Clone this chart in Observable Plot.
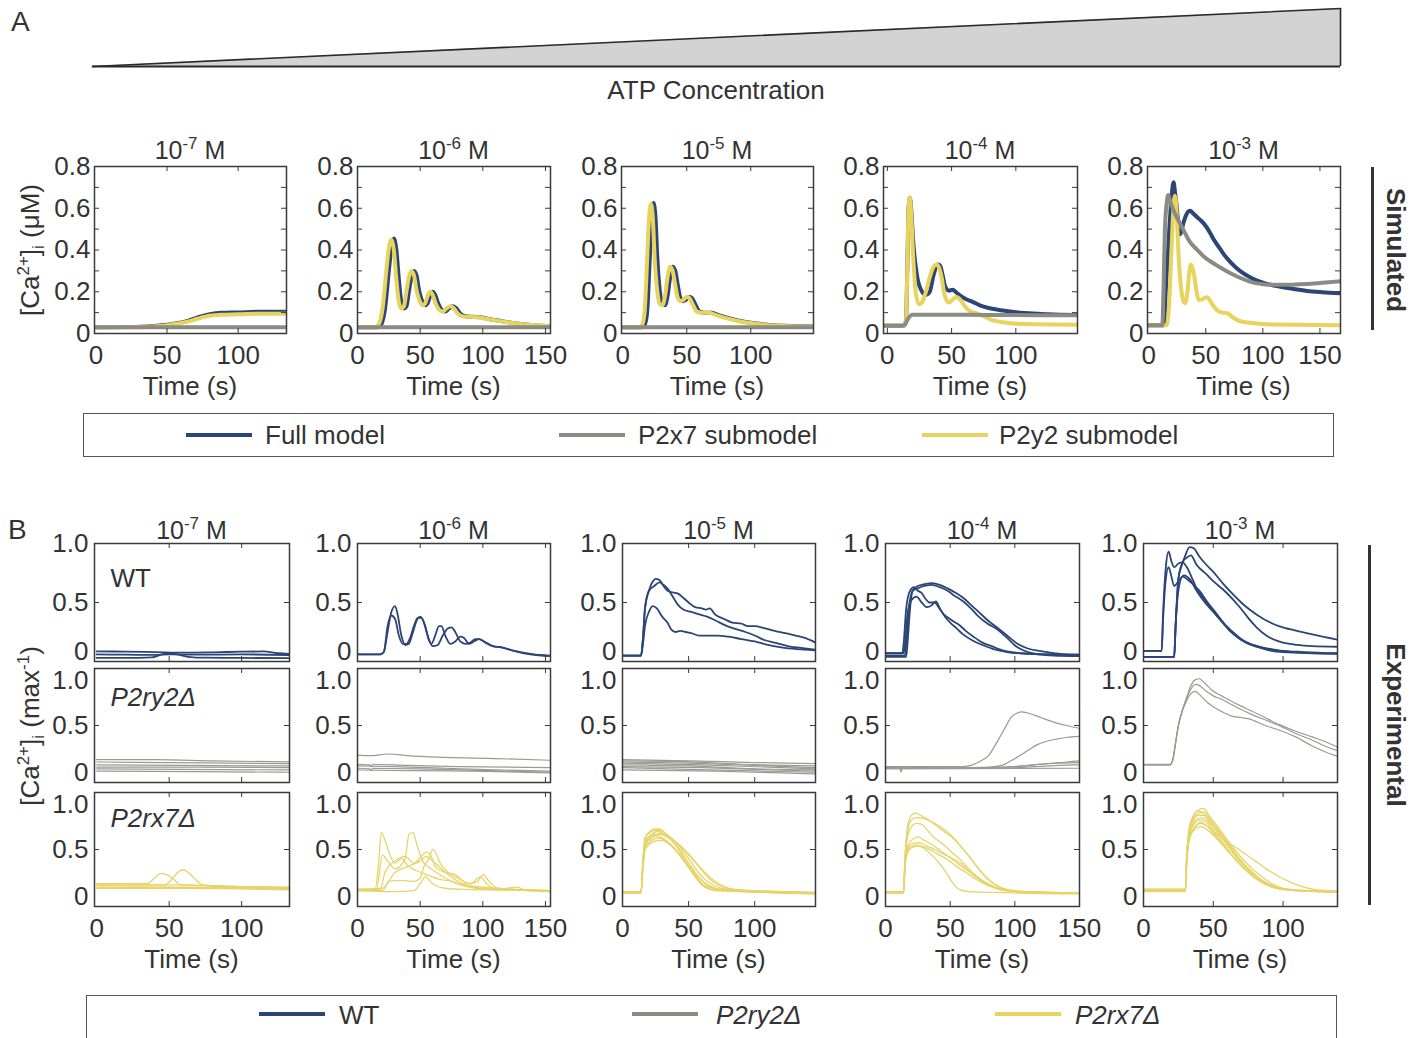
<!DOCTYPE html>
<html><head><meta charset="utf-8">
<script src="https://cdn.jsdelivr.net/npm/d3@7"></script>
<script src="https://cdn.jsdelivr.net/npm/@observablehq/plot@0.6"></script>
<style>
body{margin:0;background:#fff;overflow:hidden}
#root{position:relative;width:1425px;height:1038px;overflow:hidden;font-family:"Liberation Sans",Arial,sans-serif;color:#333}
.abs{position:absolute;white-space:nowrap;line-height:1}
.c{transform:translate(-50%,-50%)}
.su{font-size:17px;position:relative;top:-10px;vertical-align:baseline}
.sb{font-size:17px;position:relative;top:5px;vertical-align:baseline}
.leg{position:absolute;border:1.5px solid #555;box-sizing:border-box}
.sw{position:absolute;height:4px}
.lt{position:absolute;font-size:26px;transform:translateY(-50%);white-space:nowrap;line-height:1}
</style></head><body><div id="root"></div>
<script>
// ---------------- DATA ----------------
const concExp = ["-7","-6","-5","-4","-3"];
const atpRamp = [0, 1];
const simLegend = ["Full model","P2x7 submodel","P2y2 submodel"];
const expLegend = ["WT","P2ry2Δ","P2rx7Δ"];
const simYTicks = [0, 0.2, 0.4, 0.6, 0.8];
const simYMinor = [0.1, 0.2, 0.3, 0.4, 0.5, 0.6, 0.7];
const expYTicks = [0, 0.5, 1];
const simXTicks = [[0,50,100],[0,50,100,150],[0,50,100],[0,50,100],[0,50,100,150]];
const expXTicks = [[0,50,100],[0,50,100,150],[0,50,100],[0,50,100,150],[0,50,100]];
const simXDomains = [[-1,134],[0,154],[-1,149],[-3,148],[-1,168]];
const expXDomains = [[-1.5,133],[0,154],[0,146],[0,150],[0,139]];

// Simulated, 10^-7 M
const simFull7 = [[0,.03],[25,.031],[40,.036],[50,.042],[58,.05],[65,.062],[72,.078],[80,.092],[88,.099],[100,.101],[115,.104],[134,.104]];
const simP2y2_7 = [[0,.03],[25,.03],[40,.034],[50,.04],[58,.048],[65,.058],[72,.072],[80,.085],[88,.09],[100,.092],[115,.095],[134,.095]];
const simP2x7_7 = [[0,.03],[134,.03]];
// 10^-6 M
const simFull6 = [[0,.03],[16,.03],[19,.045],[22,.12],[25,.3],[27,.41],[29,.455],[31,.4],[33,.26],[35,.15],[37,.12],[39,.13],[41,.2],[43,.27],[45,.3],[47,.28],[49,.21],[52,.15],[54,.135],[56,.145],[58,.18],[60,.2],[62,.185],[64,.15],[67,.115],[70,.105],[73,.12],[76,.13],[79,.12],[82,.095],[86,.083],[92,.08],[98,.078],[106,.068],[116,.058],[130,.046],[154,.035]];
const simP2y2_6 = [[0,.03],[14,.03],[17,.045],[20,.12],[23,.3],[25,.41],[27,.45],[29,.4],[31,.26],[33,.15],[35,.12],[37,.13],[39,.2],[41,.27],[43,.3],[45,.28],[47,.21],[50,.15],[52,.135],[54,.145],[56,.18],[58,.2],[60,.185],[62,.15],[65,.115],[68,.105],[71,.12],[74,.13],[77,.12],[80,.095],[84,.082],[90,.08],[96,.078],[105,.068],[115,.058],[130,.045],[154,.035]];
const simP2x7_6 = [[0,.03],[154,.03]];
// 10^-5 M
const simFull5 = [[0,.03],[15,.03],[17,.04],[19,.1],[21,.35],[22.5,.55],[24,.625],[25.5,.56],[27,.36],[29,.2],[31,.14],[33,.135],[35,.18],[37,.27],[39,.32],[41,.3],[43,.23],[45,.17],[47,.155],[49,.16],[52,.175],[54,.17],[57,.135],[60,.105],[64,.1],[69,.1],[74,.09],[82,.075],[92,.06],[102,.05],[120,.038],[149,.033]];
const simP2y2_5 = [[0,.03],[13,.03],[15,.04],[17,.1],[19,.35],[20.5,.55],[22,.62],[23.5,.55],[25,.35],[27,.2],[29,.14],[31,.135],[33,.18],[35,.27],[37,.32],[39,.3],[41,.23],[43,.17],[45,.155],[47,.16],[50,.175],[52,.17],[55,.135],[58,.105],[62,.1],[67,.1],[72,.09],[80,.075],[90,.06],[100,.05],[118,.038],[149,.032]];
const simP2x7_5 = [[0,.03],[149,.03]];
// 10^-4 M
const simFull4 = [[-3,.037],[13,.037],[14.5,.06],[15.5,.3],[16.5,.6],[17.5,.65],[18.5,.6],[20,.45],[23,.28],[27,.2],[30,.185],[33,.2],[36,.28],[39,.33],[41,.325],[43,.28],[45,.225],[48,.205],[51,.21],[53,.2],[57,.18],[61,.165],[66,.153],[72,.135],[79,.122],[90,.11],[107,.098],[125,.092],[148,.088]];
const simP2y2_4 = [[-3,.037],[13,.037],[14.5,.06],[15.5,.3],[16.5,.6],[17.5,.65],[18.5,.58],[20,.38],[22,.2],[24.5,.14],[27,.15],[30,.2],[33,.27],[36,.32],[38.5,.33],[40.5,.31],[42.5,.26],[44,.2],[46,.16],[48,.148],[51,.165],[54,.175],[57,.16],[61,.125],[65,.105],[69,.098],[74,.085],[80,.068],[90,.054],[107,.045],[148,.042]];
const simP2x7_4 = [[-3,.037],[12,.037],[14,.045],[16,.07],[18,.085],[20,.09],[40,.09],[80,.089],[148,.087]];
// 10^-3 M
const simFull3 = [[-1,.04],[13.5,.04],[15,.2],[18,.49],[20,.65],[21.8,.725],[23,.68],[24.7,.6],[26,.52],[27.6,.475],[29,.5],[31,.54],[33.5,.575],[36.3,.588],[39,.575],[42.7,.556],[46,.54],[50,.515],[54,.48],[57,.45],[62,.41],[66,.378],[72,.34],[80.5,.298],[88,.272],[95,.253],[102,.24],[109.6,.23],[125,.215],[138.7,.204],[152,.198],[168,.193]];
const simP2y2_3 = [[-1,.04],[16,.04],[18,.15],[20,.4],[21.5,.58],[23,.66],[24.5,.58],[25.9,.41],[27.3,.28],[28.8,.2],[30.5,.155],[32,.145],[34,.2],[35.5,.29],[37,.33],[38.5,.31],[39.8,.28],[42,.2],[44,.16],[47,.163],[49.5,.172],[51.5,.174],[54,.155],[57,.129],[61.6,.105],[65,.1],[68.9,.097],[73,.08],[77.6,.064],[85,.054],[95,.048],[110,.043],[168,.04]];
const simP2x7_3 = [[-1,.04],[12,.04],[13,.2],[14.2,.49],[15.7,.62],[17.2,.663],[19,.63],[21,.6],[25.3,.55],[31,.49],[36,.44],[42.7,.4],[48,.37],[54,.346],[60,.325],[66,.306],[73,.285],[80.5,.266],[88,.25],[95,.24],[102,.235],[109.6,.233],[125,.234],[138.7,.237],[152,.243],[168,.25]];

// Experimental, WT (row 1)
const expWT7 = [
 [[0,.085],[20,.084],[40,.08],[60,.075],[80,.078],[100,.083],[115,.085],[125,.07],[133,.065]],
 [[0,.06],[20,.058],[40,.056],[50,.06],[70,.058],[100,.06],[133,.055]],
 [[0,.03],[20,.03],[38,.035],[45,.06],[50,.068],[56,.06],[63,.04],[75,.032],[100,.03],[133,.028]]
];
const expWT6 = [
 [[0,.06],[18,.06],[21,.08],[24,.25],[27,.42],[30,.47],[32,.4],[35,.22],[38,.14],[41,.15],[44,.24],[47,.34],[50,.38],[53,.33],[56,.22],[60,.13],[64,.14],[68,.22],[72,.28],[75,.29],[78,.25],[82,.17],[86,.15],[90,.16],[94,.19],[97,.19],[102,.16],[108,.13],[115,.12],[125,.09],[138,.06],[154,.045]],
 [[0,.06],[18,.06],[21,.08],[24,.3],[27,.39],[30,.36],[33,.22],[36,.15],[39,.15],[42,.2],[45,.3],[48,.37],[51,.37],[54,.3],[57,.18],[59,.15],[62,.22],[65,.3],[67,.3],[70,.22],[74,.15],[78,.17],[82,.21],[85,.2],[89,.15],[93,.17],[97,.19],[101,.17],[108,.13],[115,.12],[125,.09],[138,.065],[154,.05]]
];
const expWT5 = [
 [[0,.05],[14,.05],[15.5,.2],[17,.45],[20,.6],[23,.68],[25,.7],[28,.69],[31,.64],[34,.6],[38,.585],[42,.575],[46,.54],[50,.5],[55,.46],[60,.45],[63,.44],[66,.45],[70,.4],[77,.36],[83,.33],[90,.32],[95,.3],[100,.3],[108,.28],[115,.26],[123,.24],[131,.22],[138,.2],[146,.16]],
 [[0,.05],[14,.05],[15.5,.2],[17,.45],[20,.6],[24,.64],[28,.67],[31,.65],[34,.62],[38,.55],[42,.48],[46,.44],[52,.42],[58,.4],[64,.38],[70,.35],[77,.31],[84,.28],[93,.25],[100,.22],[108,.18],[115,.16],[125,.13],[135,.115],[146,.1]],
 [[0,.05],[14,.05],[15.5,.15],[17,.3],[20,.42],[23,.47],[26,.45],[30,.38],[34,.33],[37,.27],[40,.25],[44,.26],[48,.25],[52,.24],[58,.22],[65,.22],[72,.22],[80,.21],[90,.19],[100,.17],[110,.14],[120,.12],[132,.105],[146,.095]]
];
const expWT4 = [
 [[0,.07],[13,.07],[14,.15],[16,.45],[19,.6],[22,.63],[25,.6],[28,.58],[31,.53],[34,.5],[37,.5],[39,.51],[42,.45],[46,.38],[50,.33],[55,.28],[60,.23],[67,.18],[75,.14],[85,.1],[95,.078],[110,.065],[130,.06],[150,.06]],
 [[0,.07],[14,.07],[15,.15],[17,.4],[20,.52],[24,.55],[28,.5],[32,.46],[36,.48],[38,.5],[41,.46],[45,.4],[50,.36],[54,.33],[57,.31],[62,.26],[68,.21],[75,.16],[82,.13],[92,.09],[105,.07],[125,.06],[150,.055]],
 [[0,.05],[15,.05],[16,.15],[18,.45],[21,.6],[25,.64],[30,.655],[36,.665],[42,.65],[48,.62],[53,.59],[60,.54],[66,.48],[72,.42],[79,.35],[86,.29],[94,.22],[102,.15],[110,.11],[119,.09],[130,.07],[150,.05]],
 [[0,.04],[16,.04],[17,.15],[19,.45],[21,.6],[25,.62],[30,.64],[36,.65],[42,.63],[48,.6],[53,.56],[60,.51],[66,.45],[72,.38],[79,.32],[86,.275],[94,.2],[102,.12],[110,.08],[119,.06],[130,.05],[150,.045]]
];
const expWT3 = [
 [[0,.09],[13,.09],[14,.4],[16,.8],[18,.93],[20,.85],[22,.8],[25,.83],[28,.84],[31,.8],[35,.7],[38,.62],[44,.52],[50,.43],[56,.34],[62,.26],[68,.2],[74,.16],[85,.12],[97,.095],[115,.08],[139,.07]],
 [[0,.09],[13,.09],[14,.35],[16,.7],[18,.8],[20,.72],[22,.64],[25,.68],[29,.73],[33,.7],[38,.6],[44,.5],[50,.42],[56,.34],[62,.26],[68,.2],[74,.155],[85,.115],[97,.09],[115,.075],[139,.068]],
 [[0,.04],[22,.04],[23,.3],[25,.7],[27,.8],[30,.9],[33,.97],[36,.96],[40,.89],[45,.82],[50,.76],[57,.66],[64,.57],[70,.5],[76,.44],[86,.36],[97,.3],[110,.26],[121,.23],[139,.185]],
 [[0,.04],[22,.04],[23,.3],[25,.7],[28,.84],[31,.88],[34,.9],[38,.82],[45,.74],[51,.67],[57,.61],[63,.54],[69,.46],[75,.37],[81,.29],[88,.22],[97,.17],[110,.14],[121,.13],[139,.125]],
 [[0,.04],[22,.04],[23,.3],[25,.6],[28,.72],[31,.7],[35,.66],[40,.6],[46,.5],[52,.41],[58,.32],[64,.25],[70,.19],[78,.14],[88,.1],[100,.08],[139,.065]]
];
// Experimental, P2ry2Δ (row 2)
const expRy7 = [
 [[0,.2],[40,.2],[80,.19],[133,.18]],
 [[0,.18],[50,.175],[133,.165]],
 [[0,.155],[60,.15],[133,.145]],
 [[0,.135],[70,.135],[133,.13]],
 [[0,.12],[60,.115],[133,.11]],
 [[0,.1],[70,.095],[133,.09]]
];
const expRy6 = [
 [[0,.24],[10,.235],[25,.25],[40,.235],[70,.22],[110,.21],[154,.195]],
 [[0,.16],[10,.155],[11,.14],[12,.16],[40,.15],[80,.14],[154,.13]],
 [[0,.145],[30,.14],[70,.125],[110,.11],[154,.1]],
 [[0,.125],[10,.12],[11,.105],[12,.125],[50,.12],[100,.105],[154,.09]],
 [[0,.11],[40,.105],[90,.1],[154,.085]]
];
const expRy5 = [
 [[0,.2],[50,.19],[100,.175],[146,.165]],
 [[0,.19],[40,.185],[90,.16],[146,.145]],
 [[0,.18],[50,.17],[100,.15],[146,.13]],
 [[0,.17],[60,.155],[146,.12]],
 [[0,.155],[50,.145],[100,.12],[146,.11]],
 [[0,.14],[60,.13],[146,.1]],
 [[0,.13],[50,.115],[146,.09]],
 [[0,.11],[70,.1],[146,.075]]
];
const expRy4 = [
 [[0,.14],[40,.14],[60,.14],[66,.15],[72,.18],[80,.24],[86,.35],[92,.47],[97,.57],[102,.61],[105,.62],[110,.61],[120,.57],[130,.53],[140,.5],[150,.475]],
 [[0,.13],[60,.13],[80,.135],[90,.15],[97,.19],[103,.23],[110,.28],[117,.33],[124,.36],[132,.38],[140,.395],[150,.405]],
 [[0,.13],[11,.13],[12,.09],[13,.13],[80,.13],[100,.14],[120,.16],[140,.18],[150,.19]],
 [[0,.135],[80,.13],[105,.145],[125,.165],[150,.175]],
 [[0,.125],[90,.125],[115,.14],[135,.15],[150,.155]],
 [[0,.12],[150,.125]]
];
const expRy3 = [
 [[0,.155],[19,.155],[21,.2],[23,.35],[25,.5],[28,.64],[31,.75],[34,.85],[37,.9],[40,.91],[44,.87],[50,.8],[56,.76],[62,.72],[70,.67],[77,.63],[87,.57],[97,.51],[109,.45],[121,.4],[130,.36],[139,.31]],
 [[0,.16],[19,.16],[21,.2],[23,.35],[25,.5],[28,.64],[31,.74],[34,.82],[37,.86],[40,.85],[45,.8],[50,.76],[56,.73],[62,.69],[70,.64],[77,.6],[87,.55],[97,.5],[109,.43],[121,.37],[130,.32],[139,.28]],
 [[0,.155],[19,.155],[21,.2],[23,.35],[25,.5],[28,.63],[31,.72],[34,.78],[37,.8],[41,.76],[46,.7],[52,.65],[58,.61],[64,.58],[70,.57],[75,.56],[87,.5],[97,.46],[109,.4],[121,.32],[130,.27],[139,.23]]
];
// Experimental, P2rx7Δ (row 3)
const expRx7 = [
 [[0,.2],[35,.2],[40,.25],[44,.29],[48,.28],[53,.24],[58,.19],[80,.18],[133,.17]],
 [[0,.19],[47,.19],[52,.24],[57,.31],[60,.32],[64,.29],[68,.24],[73,.19],[90,.17],[133,.16]],
 [[0,.185],[40,.19],[60,.19],[100,.175],[133,.165]],
 [[0,.17],[50,.17],[90,.165],[133,.155]],
 [[0,.16],[60,.16],[110,.155],[111,.175],[112,.155],[133,.15]],
 [[0,.165],[30,.17],[70,.165],[133,.145]]
];
const expRx6 = [
 [[0,.15],[14,.15],[17,.4],[19,.65],[22,.58],[26,.45],[30,.38],[35,.42],[40,.36],[46,.32],[55,.28],[65,.24],[75,.22],[85,.18],[100,.16],[154,.14]],
 [[0,.15],[15,.15],[20,.45],[24,.4],[30,.33],[38,.42],[41,.63],[44,.65],[48,.52],[52,.4],[56,.35],[60,.32],[70,.25],[80,.2],[100,.17],[154,.14]],
 [[0,.14],[18,.15],[22,.3],[30,.4],[38,.44],[45,.38],[50,.43],[55,.48],[58,.46],[62,.35],[70,.3],[78,.28],[88,.2],[96,.22],[100,.28],[105,.22],[112,.16],[154,.13]],
 [[0,.14],[20,.14],[25,.22],[35,.23],[45,.22],[50,.25],[53,.35],[57,.42],[60,.5],[62,.48],[66,.38],[72,.3],[80,.25],[90,.2],[98,.26],[103,.2],[112,.15],[128,.17],[132,.15],[154,.13]],
 [[0,.14],[30,.13],[45,.14],[50,.2],[54,.26],[60,.2],[70,.16],[85,.15],[154,.14]],
 [[0,.15],[20,.16],[30,.3],[40,.35],[50,.4],[55,.44],[60,.4],[70,.3],[80,.22],[95,.16],[154,.135]]
];
const expRx5 = [
 [[0,.13],[14,.13],[15.5,.4],[17,.6],[20,.65],[24,.68],[28,.68],[32,.65],[36,.6],[40,.54],[45,.45],[50,.35],[55,.26],[60,.2],[68,.16],[80,.145],[100,.135],[146,.12]],
 [[0,.12],[14,.12],[15.5,.4],[17,.6],[20,.64],[25,.67],[30,.66],[35,.62],[40,.57],[45,.5],[50,.42],[56,.32],[62,.24],[70,.18],[80,.15],[100,.14],[146,.125]],
 [[0,.125],[14,.125],[15.5,.4],[17,.58],[21,.62],[26,.66],[31,.64],[36,.6],[42,.55],[48,.48],[54,.4],[60,.32],[66,.24],[74,.18],[85,.15],[146,.12]],
 [[0,.12],[14,.12],[15.5,.38],[17,.55],[22,.6],[27,.63],[32,.62],[38,.58],[44,.53],[50,.46],[56,.38],[63,.29],[70,.22],[78,.17],[90,.14],[146,.11]],
 [[0,.13],[14,.13],[15.5,.35],[17,.52],[22,.58],[27,.6],[32,.58],[38,.52],[44,.44],[50,.34],[55,.26],[60,.19],[66,.15],[80,.14],[146,.115]],
 [[0,.12],[14,.12],[15.5,.35],[17,.5],[22,.56],[28,.58],[34,.56],[40,.5],[46,.42],[52,.33],[58,.25],[64,.19],[72,.15],[90,.135],[146,.11]],
 [[0,.125],[14,.125],[15.5,.35],[18,.55],[23,.62],[28,.61],[34,.57],[40,.5],[46,.41],[52,.32],[58,.23],[63,.17],[70,.14],[146,.115]],
 [[0,.12],[14,.12],[15.5,.38],[18,.58],[23,.63],[29,.64],[35,.6],[42,.52],[49,.4],[55,.3],[61,.22],[68,.17],[78,.14],[146,.12]]
];
const expRx4 = [
 [[0,.13],[14,.13],[15,.4],[17,.7],[20,.8],[23,.82],[27,.8],[32,.77],[38,.72],[45,.66],[52,.6],[58,.53],[66,.42],[74,.3],[80,.23],[88,.17],[96,.14],[110,.125],[150,.12]],
 [[0,.12],[14,.12],[15,.4],[17,.65],[20,.76],[24,.78],[30,.77],[38,.73],[45,.68],[52,.61],[58,.53],[64,.45],[70,.36],[76,.28],[84,.2],[94,.15],[110,.13],[150,.12]],
 [[0,.13],[14,.13],[15,.4],[17,.6],[20,.7],[24,.73],[28,.72],[33,.66],[38,.6],[44,.55],[50,.49],[56,.43],[62,.36],[68,.29],[76,.22],[85,.17],[100,.135],[150,.12]],
 [[0,.12],[14,.12],[15,.35],[17,.52],[20,.58],[25,.61],[30,.58],[35,.55],[40,.51],[46,.46],[52,.41],[58,.36],[64,.31],[70,.26],[78,.2],[88,.15],[100,.13],[150,.115]],
 [[0,.125],[14,.125],[15,.35],[17,.48],[20,.52],[25,.54],[30,.52],[36,.49],[42,.45],[48,.41],[55,.35],[62,.3],[70,.24],[78,.19],[88,.15],[105,.13],[150,.115]],
 [[0,.12],[14,.12],[15,.35],[17,.47],[21,.52],[26,.53],[31,.5],[36,.45],[40,.4],[45,.33],[49,.26],[53,.19],[57,.15],[65,.13],[150,.11]],
 [[0,.13],[14,.13],[15,.35],[17,.5],[21,.55],[26,.56],[32,.53],[38,.5],[45,.46],[52,.42],[58,.38],[64,.32],[70,.26],[78,.2],[90,.15],[105,.13],[150,.12]]
];
const expRx3 = [
 [[0,.15],[30,.15],[31,.45],[33,.7],[36,.8],[40,.85],[43,.86],[47,.8],[52,.72],[58,.62],[64,.52],[70,.43],[77,.34],[84,.27],[92,.2],[100,.16],[112,.14],[139,.13]],
 [[0,.14],[30,.14],[31,.45],[33,.68],[36,.78],[40,.82],[43,.83],[48,.76],[54,.66],[60,.56],[66,.46],[72,.37],[79,.29],[86,.22],[95,.17],[108,.14],[139,.13]],
 [[0,.15],[30,.15],[31,.45],[33,.66],[36,.76],[39,.8],[43,.8],[48,.74],[54,.64],[60,.54],[66,.44],[72,.36],[79,.28],[87,.21],[96,.17],[110,.14],[139,.135]],
 [[0,.14],[30,.14],[31,.42],[33,.62],[36,.72],[40,.76],[44,.75],[50,.66],[56,.57],[62,.47],[68,.38],[75,.3],[82,.23],[90,.18],[100,.15],[139,.13]],
 [[0,.13],[30,.13],[31,.4],[33,.6],[37,.7],[41,.73],[45,.71],[51,.63],[57,.54],[63,.45],[69,.37],[76,.29],[84,.22],[93,.17],[105,.145],[139,.13]],
 [[0,.14],[30,.14],[31,.4],[33,.6],[37,.68],[41,.7],[46,.67],[52,.6],[58,.52],[64,.44],[70,.36],[77,.28],[85,.21],[95,.16],[110,.14],[139,.125]],
 [[0,.135],[30,.135],[31,.4],[33,.6],[37,.7],[41,.74],[46,.7],[52,.64],[58,.58],[64,.535],[72,.47],[80,.4],[88,.33],[96,.27],[104,.22],[112,.18],[122,.15],[139,.135]],
 [[0,.15],[30,.15],[31,.45],[33,.7],[36,.8],[39,.84],[42,.82],[46,.78],[52,.7],[58,.6],[64,.5],[70,.4],[77,.31],[85,.23],[95,.17],[110,.14],[139,.13]],
 [[0,.145],[30,.145],[31,.42],[33,.64],[37,.75],[41,.78],[45,.76],[50,.69],[56,.6],[62,.5],[68,.41],[74,.33],[82,.25],[92,.18],[105,.15],[139,.13]]
];

// ---------------- LAYOUT / STYLE ----------------
const C_NAVY = "#2c4577", C_GRAY = "#8b8b83", C_YEL = "#e8d35c";
const C_EGRAY = "#9a9a92", C_EYEL = "#e7d469", C_AX = "#3a3a3a";
const FONT = '"Liberation Sans", Arial, sans-serif';
const root = document.getElementById("root");

function addDiv(html, css, cls) {
  const d = document.createElement("div");
  d.className = cls || "abs";
  d.innerHTML = html;
  Object.assign(d.style, css);
  root.appendChild(d);
  return d;
}
function flat(traces) {
  const out = [];
  traces.forEach((tr, i) => tr.forEach(([t, v]) => out.push({t, v, id: i})));
  return out;
}
const fmtTick = d => d === 0 ? "0" : d.toFixed(1);

function panel(o) {
  const ML = 70, MR = 12, MT = 12, MB = 50;
  const W = o.fw + ML + MR, H = o.fh + MT + MB;
  const tl = 5;
  const marks = [];
  for (const s of o.series) {
    marks.push(Plot.line(flat(s.traces), {x: "t", y: "v", z: "id", stroke: s.color, strokeWidth: s.width, curve: "monotone-x", clip: true, strokeLinejoin: "round"}));
  }
  marks.push(Plot.frame({stroke: C_AX, strokeWidth: 1.5}));
  marks.push(Plot.tickY(o.yMarks, {y: d => d, stroke: C_AX, strokeWidth: 1, insetRight: o.fw - tl}));
  marks.push(Plot.tickY(o.yMarks, {y: d => d, stroke: C_AX, strokeWidth: 1, insetLeft: o.fw - tl}));
  const xm = o.xTicks.filter(d => d > o.xDomain[0] + 2 && d < o.xDomain[1] - 2);
  marks.push(Plot.tickX(xm, {x: d => d, stroke: C_AX, strokeWidth: 1, insetTop: o.fh - tl}));
  marks.push(Plot.tickX(xm, {x: d => d, stroke: C_AX, strokeWidth: 1, insetBottom: o.fh - tl}));
  for (const yv of o.yTicks) {
    let dy = 0;
    if (o.nudgeZero && yv === 0) dy = -10;
    if (o.nudgeTop && yv === o.yDomain[1]) dy = 12;
    marks.push(Plot.axisY([yv], {tickSize: 0, tickPadding: o.yPad, tickFormat: fmtTick, label: null, dy, fill: "#333"}));
  }
  if (o.showX) marks.push(Plot.axisX(o.xTicks, {tickSize: 0, tickPadding: 12, label: null, fill: "#333"}));
  if (o.rowLabel) marks.push(Plot.text([o.rowLabel], {frameAnchor: "top-left", dx: 16, dy: o.rowDy, textAnchor: "start", fontStyle: o.rowItalic ? "italic" : "normal", fill: "#333", fontSize: 26}));
  const svg = Plot.plot({
    width: W, height: H, marginLeft: ML, marginRight: MR, marginTop: MT, marginBottom: MB,
    x: {domain: o.xDomain, axis: o.showX ? undefined : null},
    y: {domain: o.yDomain},
    style: {fontFamily: FONT, fontSize: "26px", color: "#333", background: "transparent", overflow: "visible"},
    marks
  });
  svg.style.position = "absolute";
  svg.style.left = (o.fx - ML) + "px";
  svg.style.top = (o.fy - MT) + "px";
  svg.style.maxWidth = "none";
  root.appendChild(svg);
}
const titleHtml = e => `10<span class="su">${e}</span> M`;

// ---------------- Panel A header ----------------
addDiv("A", {left: "11px", top: "8px", fontSize: "28px"});
{
  const svg = Plot.plot({
    width: 1425, height: 70, marginLeft: 92, marginRight: 85, marginTop: 8, marginBottom: 4,
    x: {domain: [0, 1], axis: null}, y: {domain: [0, 1], axis: null},
    style: {background: "transparent"},
    marks: [
      Plot.areaY(atpRamp, {x: d => d, y: d => d, fill: "#d3d3d3"}),
      Plot.line(atpRamp, {x: d => d, y: d => d, stroke: "#2a2a2a", strokeWidth: 1.6}),
      Plot.ruleX([atpRamp[1]], {stroke: "#2a2a2a", strokeWidth: 1.6}),
      Plot.ruleY([atpRamp[0]], {stroke: "#2a2a2a", strokeWidth: 2})
    ]
  });
  svg.style.position = "absolute"; svg.style.left = "0px"; svg.style.top = "0px"; svg.style.maxWidth = "none";
  root.appendChild(svg);
}
addDiv("ATP Concentration", {left: "716px", top: "90px", fontSize: "26px"}, "abs c");

// ---------------- Panel A (simulated) ----------------
const simCols = [
  {fx: 94, fw: 192}, {fx: 357, fw: 193}, {fx: 621, fw: 192}, {fx: 883, fw: 194}, {fx: 1147, fw: 193}
];
const simData = [
  [simFull7, simP2y2_7, simP2x7_7],
  [simFull6, simP2y2_6, simP2x7_6],
  [simFull5, simP2y2_5, simP2x7_5],
  [simFull4, simP2y2_4, simP2x7_4],
  [simFull3, simP2y2_3, simP2x7_3]
];
simCols.forEach((c, i) => {
  panel({
    fx: c.fx, fy: 166, fw: c.fw, fh: 167,
    xDomain: simXDomains[i], yDomain: [0, 0.8], xTicks: simXTicks[i],
    yTicks: simYTicks, yMarks: simYMinor, yPad: 4, showX: true,
    series: [
      {traces: [simData[i][0]], color: C_NAVY, width: 4},
      {traces: [simData[i][1]], color: C_YEL, width: 4},
      {traces: [simData[i][2]], color: C_GRAY, width: 4}
    ]
  });
  addDiv(titleHtml(concExp[i]), {left: (c.fx + c.fw / 2) + "px", top: "150px", fontSize: "25px"}, "abs c");
  addDiv("Time (s)", {left: (c.fx + c.fw / 2) + "px", top: "386px", fontSize: "26px"}, "abs c");
});
addDiv(`[Ca<span class="su">2+</span>]<span class="sb">i</span> (μM)`, {left: "30px", top: "250px", fontSize: "26px", transform: "translate(-50%,-50%) rotate(-90deg)"});
addDiv("Simulated", {left: "1396px", top: "250px", fontSize: "26px", fontWeight: "bold", transform: "translate(-50%,-50%) rotate(90deg)"});
addDiv("", {left: "1371px", top: "167px", width: "3px", height: "163px", background: "#333"});

// legend A
addDiv("", {left: "83px", top: "413px", width: "1251px", height: "44px"}, "leg");
[[186, 265, C_NAVY], [559, 638, C_GRAY], [922, 999, C_YEL]].forEach(([x, tx, col], i) => {
  addDiv("", {left: x + "px", top: "433px", width: "66px", background: col}, "sw");
  addDiv(simLegend[i], {left: tx + "px", top: "435px"}, "lt");
});

// ---------------- Panel B (experimental) ----------------
addDiv("B", {left: "8px", top: "516px", fontSize: "28px"});
const expCols = [
  {fx: 94, fw: 195}, {fx: 357, fw: 193}, {fx: 622, fw: 193}, {fx: 885, fw: 194}, {fx: 1143, fw: 194}
];
const expRows = [
  {fy: 543, fh: 118, color: C_NAVY, width: 1.8, data: [expWT7, expWT6, expWT5, expWT4, expWT3], label: "WT", italic: false, dy: 25},
  {fy: 668, fh: 114, color: C_EGRAY, width: 1.2, data: [expRy7, expRy6, expRy5, expRy4, expRy3], label: "P2ry2Δ", italic: true, dy: 19},
  {fy: 792, fh: 114, color: C_EYEL, width: 1.3, data: [expRx7, expRx6, expRx5, expRx4, expRx3], label: "P2rx7Δ", italic: true, dy: 16}
];
expRows.forEach((r, ri) => {
  expCols.forEach((c, i) => {
    panel({
      fx: c.fx, fy: r.fy, fw: c.fw, fh: r.fh,
      xDomain: expXDomains[i], yDomain: [0, 1], xTicks: expXTicks[i],
      yTicks: expYTicks, yMarks: [0.5], yPad: 6, showX: ri === 2,
      nudgeZero: true, nudgeTop: ri > 0,
      rowLabel: i === 0 ? r.label : null, rowItalic: r.italic, rowDy: r.dy,
      series: [{traces: r.data[i], color: r.color, width: r.width}]
    });
  });
});
expCols.forEach((c, i) => {
  addDiv(titleHtml(concExp[i]), {left: (c.fx + c.fw / 2) + "px", top: "530px", fontSize: "25px"}, "abs c");
  addDiv("Time (s)", {left: (c.fx + c.fw / 2) + "px", top: "959px", fontSize: "26px"}, "abs c");
});
addDiv(`[Ca<span class="su">2+</span>]<span class="sb">i</span> (max<span class="su">-1</span>)`, {left: "30px", top: "726px", fontSize: "26px", transform: "translate(-50%,-50%) rotate(-90deg)"});
addDiv("Experimental", {left: "1396px", top: "725px", fontSize: "26px", fontWeight: "bold", transform: "translate(-50%,-50%) rotate(90deg)"});
addDiv("", {left: "1368px", top: "545px", width: "3px", height: "360px", background: "#333"});

// legend B
addDiv("", {left: "86px", top: "995px", width: "1251px", height: "70px"}, "leg");
[[259, 339, C_NAVY, false], [632, 716, C_GRAY, true], [995, 1075, C_YEL, true]].forEach(([x, tx, col, it], i) => {
  addDiv("", {left: x + "px", top: "1012px", width: "66px", background: col}, "sw");
  const t = addDiv(expLegend[i], {left: tx + "px", top: "1015px"}, "lt");
  if (it) t.style.fontStyle = "italic";
});
</script></body></html>
